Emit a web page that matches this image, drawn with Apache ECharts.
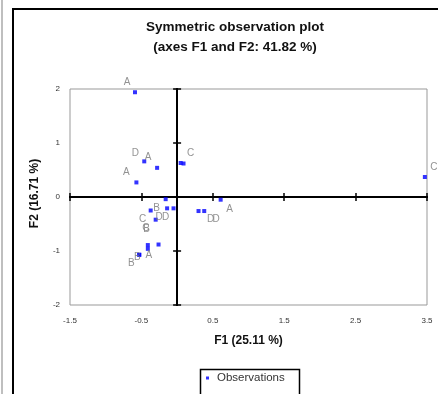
<!DOCTYPE html>
<html>
<head>
<meta charset="utf-8">
<script src="https://cdn.jsdelivr.net/npm/echarts@6/dist/echarts.min.js"></script>
<style>
html,body{margin:0;padding:0;background:#fff;}
#chart{width:438px;height:394px;}
</style>
</head>
<body>
<div id="chart"></div>
<script>
// ---- data ----
const obsNames = ['A','D','A','A','C','','','B','D','D','C','C','A','B','B','B','A','D','D','C'];
const f1Values = [-0.59,-0.46,-0.28,-0.57,0.05,0.09,-0.16,-0.37,-0.14,-0.05,-0.30,-0.41,-0.41,-0.26,-0.53,-0.53,0.61,0.30,0.38,3.47];
const f2Values = [1.94,0.66,0.54,0.27,0.63,0.62,-0.04,-0.25,-0.21,-0.21,-0.42,-0.89,-0.96,-0.88,-1.07,-1.07,-0.05,-0.26,-0.26,0.37];
const xTicks = [-1.5,-0.5,0.5,1.5,2.5,3.5];
const yTicks = [-2,-1,0,1,2];
const seriesName = 'Observations';
const chartTitle = 'Symmetric observation plot';
const chartSubtitle = '(axes F1 and F2: 41.82 %)';
const xTitle = 'F1 (25.11 %)';
const yTitle = 'F2 (16.71 %)';

// ---- label nudges (style only) ----
const labelNudges = [[-8,-10],[-9,-8],[-9,-11],[-10,-10],[10,-10],[0,0],[0,0],[6,-2],[-8,9],[-8,9],[-13,0],[-2,-17],[1,6],[-12,-15],[-2,2],[-8,8],[9,10],[12,8],[12,8],[9,-10]];

const points = f1Values.map((x, i) => ({ value: [x, f2Values[i]], name: obsNames[i] }));

const gridRect = { left: 70, top: 89, width: 357, height: 216 };
const font = 'Liberation Sans, Arial, sans-serif';

const zeroAxisCommon = {
  type: 'value',
  gridIndex: 1,
  axisLine: { show: true, onZero: true, lineStyle: { color: '#000', width: 2 } },
  axisTick: { show: true, length: 4, lineStyle: { color: '#000', width: 1.5 } },
  axisLabel: { show: false },
  splitLine: { show: false }
};

const chart = echarts.init(document.getElementById('chart'), null, { renderer: 'canvas' });
chart.setOption({
  animation: false,
  backgroundColor: '#fff',
  title: {
    text: chartTitle + '\n' + chartSubtitle,
    left: 230,
    top: 12,
    textAlign: 'center',
    textStyle: { fontFamily: font, fontSize: 13.5, fontWeight: 'bold', color: '#111', lineHeight: 20 }
  },
  graphic: [
    { type: 'line', shape: { x1: 2, y1: 0, x2: 2, y2: 394 }, style: { stroke: '#aaa', lineWidth: 1.5 } },
    { type: 'rect', shape: { x: 13, y: 9, width: 440, height: 400 }, style: { fill: 'none', stroke: '#000', lineWidth: 2 } },
    { type: 'rect', shape: { x: 200.5, y: 369.5, width: 99, height: 40 }, style: { fill: 'none', stroke: '#000', lineWidth: 1.5 } }
  ],
  legend: {
    data: [seriesName],
    left: 206,
    top: 372,
    icon: 'rect',
    itemWidth: 3,
    itemHeight: 3,
    itemGap: 6,
    padding: 0,
    textStyle: { fontFamily: font, fontSize: 11.5, color: '#333', padding: [0, 0, 0, 3] }
  },
  grid: [
    Object.assign({ show: true, borderColor: '#999', borderWidth: 1, backgroundColor: 'transparent' }, gridRect),
    Object.assign({ show: false }, gridRect)
  ],
  xAxis: [
    {
      type: 'value', gridIndex: 0, min: xTicks[0], max: xTicks[xTicks.length - 1], interval: 1,
      position: 'bottom',
      axisLine: { show: false, onZero: false },
      axisTick: { show: false },
      splitLine: { show: false },
      axisLabel: { margin: 12, fontFamily: font, fontSize: 8, color: '#333', formatter: v => String(v) },
      name: xTitle, nameLocation: 'middle', nameGap: 30,
      nameTextStyle: { fontFamily: font, fontSize: 12, fontWeight: 'bold', color: '#111' }
    },
    Object.assign({}, zeroAxisCommon, { min: xTicks[0], max: xTicks[xTicks.length - 1], interval: 1, position: 'bottom' }),
    Object.assign({}, zeroAxisCommon, { min: xTicks[0], max: xTicks[xTicks.length - 1], interval: 1, position: 'top' })
  ],
  yAxis: [
    {
      type: 'value', gridIndex: 0, min: yTicks[0], max: yTicks[yTicks.length - 1], interval: 1,
      position: 'left',
      axisLine: { show: false, onZero: false },
      axisTick: { show: false },
      splitLine: { show: false },
      axisLabel: { margin: 10, fontFamily: font, fontSize: 8, color: '#333' },
      name: yTitle, nameLocation: 'middle', nameGap: 29, nameRotate: 90,
      nameTextStyle: { fontFamily: font, fontSize: 12, fontWeight: 'bold', color: '#111', padding: [0, 0, 0, 7] }
    },
    Object.assign({}, zeroAxisCommon, { min: yTicks[0], max: yTicks[yTicks.length - 1], interval: 1, position: 'left' }),
    Object.assign({}, zeroAxisCommon, { min: yTicks[0], max: yTicks[yTicks.length - 1], interval: 1, position: 'right' })
  ],
  series: [{
    name: seriesName,
    type: 'scatter',
    xAxisIndex: 0,
    yAxisIndex: 0,
    z: 5,
    symbol: 'rect',
    symbolSize: [4, 4],
    itemStyle: { color: '#0000ff' },
    label: {
      show: true,
      position: 'inside',
      formatter: p => p.name,
      fontFamily: font,
      fontSize: 10,
      color: '#777'
    },
    labelLayout: p => ({ dx: labelNudges[p.dataIndex][0], dy: labelNudges[p.dataIndex][1], hideOverlap: false }),
    data: points
  }]
});
</script>
</body>
</html>
